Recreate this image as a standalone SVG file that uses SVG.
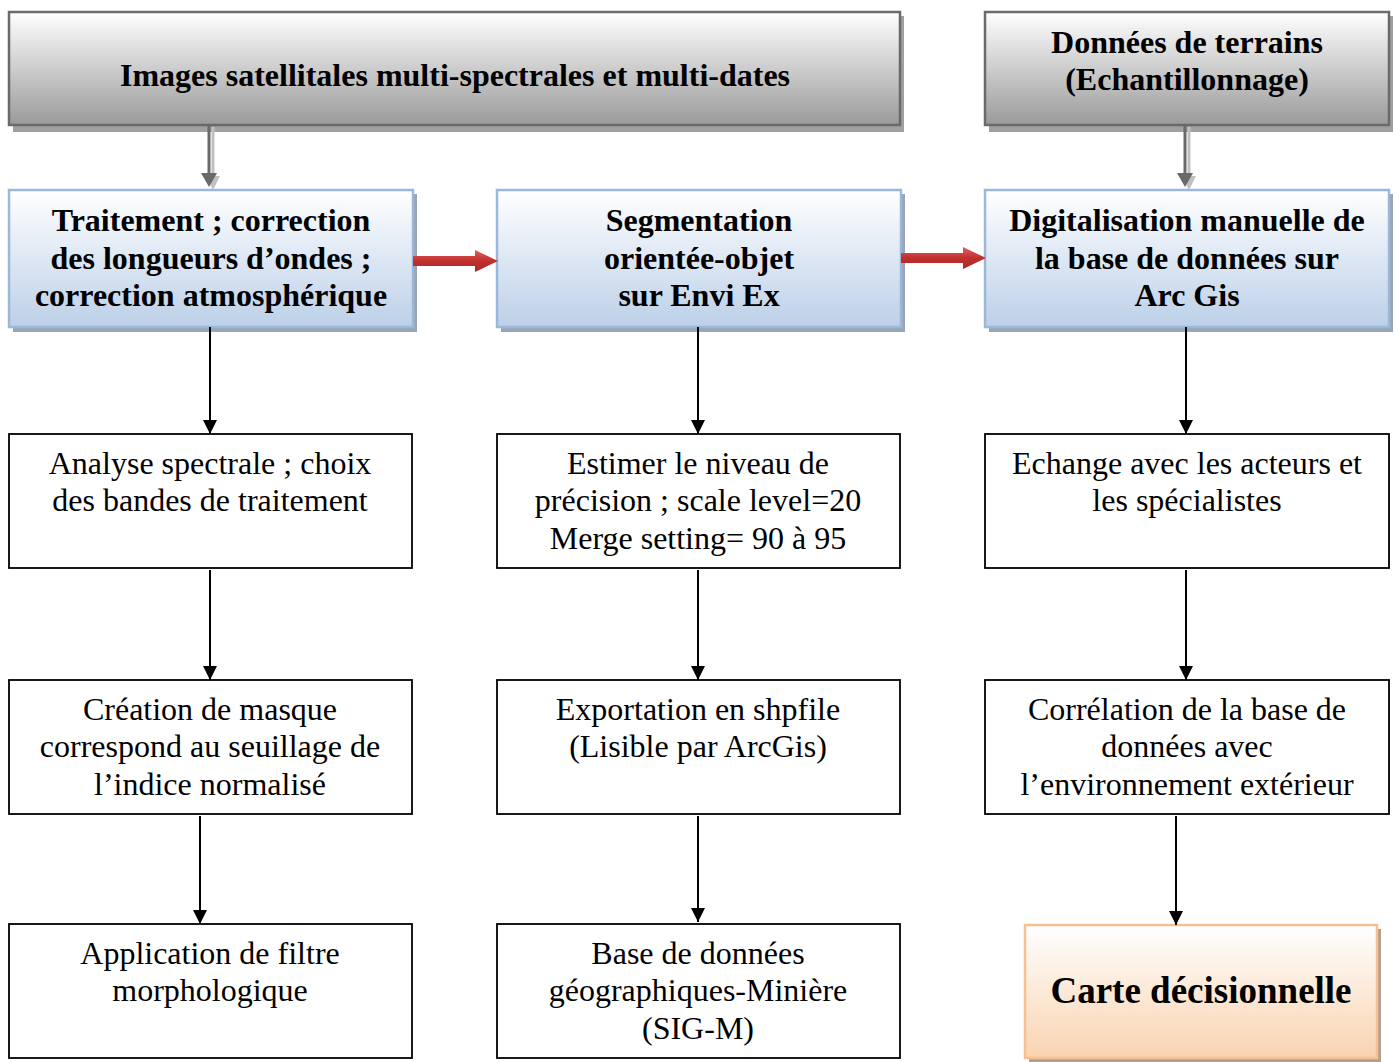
<svg xmlns="http://www.w3.org/2000/svg" width="1395" height="1062" viewBox="0 0 1395 1062">
<defs>
<linearGradient id="gGray" x1="0" y1="0" x2="0" y2="1">
<stop offset="0" stop-color="#ffffff"/><stop offset="1" stop-color="#9a9a9a"/>
</linearGradient>
<linearGradient id="gBlue" x1="0" y1="0" x2="0" y2="1">
<stop offset="0" stop-color="#ffffff"/><stop offset="1" stop-color="#bcd0e8"/>
</linearGradient>
<linearGradient id="gOrange" x1="0" y1="0" x2="0" y2="1">
<stop offset="0" stop-color="#ffffff"/><stop offset="1" stop-color="#f9d3b1"/>
</linearGradient>
<linearGradient id="gRed" x1="0" y1="0" x2="0" y2="1">
<stop offset="0" stop-color="#e06060"/><stop offset="0.5" stop-color="#c0302e"/><stop offset="1" stop-color="#a82a28"/>
</linearGradient>
<marker id="ah" viewBox="0 0 10 10" refX="10" refY="5" markerWidth="14" markerHeight="15" markerUnits="userSpaceOnUse" orient="auto">
<path d="M0,0 L10,5 L0,10 z" fill="#000"/>
</marker>
</defs>
<style>
text{font-family:"Liberation Serif","Times New Roman",serif;fill:#000;text-anchor:middle}
.b{font-weight:bold;font-size:32px}
.r{font-size:32px}
.hdr{fill:url(#gGray);stroke:#6a6a6a;stroke-width:2.5}
.blue{fill:url(#gBlue);stroke:#9ab8dc;stroke-width:2.5}
.wh{fill:#fff;stroke:#000;stroke-width:1.8}
.sh{fill:#a0a0a0}
.shb{fill:#9aa6b6}
.conn{stroke:#000;stroke-width:2;fill:none}
</style>
<rect width="1395" height="1062" fill="#fff"/>

<g id="n-images">
<rect class="sh" x="13" y="16" width="891" height="116"/>
<rect class="hdr" x="9" y="12" width="891" height="113"/>
<text class="b" x="455" y="86">Images satellitales multi-spectrales et multi-dates</text>
</g>
<g id="n-terrain">
<rect class="sh" x="989" y="16" width="404" height="116"/>
<rect class="hdr" x="985" y="12" width="404" height="113"/>
<text class="b" x="1187" y="53">Données de terrains</text>
<text class="b" x="1187" y="90">(Echantillonnage)</text>
</g>

<g id="n-traitement">
<rect class="shb" x="13" y="194" width="404" height="138"/>
<rect class="blue" x="9" y="190" width="404" height="137"/>
<text class="b" x="211" y="231">Traitement ; correction</text>
<text class="b" x="211" y="269">des longueurs d’ondes ;</text>
<text class="b" x="211" y="306">correction atmosphérique</text>
</g>
<g id="n-segmentation">
<rect class="shb" x="501" y="194" width="404" height="138"/>
<rect class="blue" x="497" y="190" width="404" height="137"/>
<text class="b" x="699" y="231">Segmentation</text>
<text class="b" x="699" y="269">orientée-objet</text>
<text class="b" x="699" y="306">sur Envi Ex</text>
</g>
<g id="n-digitalisation">
<rect class="shb" x="989" y="194" width="404" height="138"/>
<rect class="blue" x="985" y="190" width="404" height="137"/>
<text class="b" x="1187" y="231">Digitalisation manuelle de</text>
<text class="b" x="1187" y="269">la base de données sur</text>
<text class="b" x="1187" y="306">Arc Gis</text>
</g>

<g id="n-analyse">
<rect class="wh" x="9" y="434" width="403" height="134"/>
<text class="r" x="210" y="474">Analyse spectrale ; choix</text>
<text class="r" x="210" y="511">des bandes de traitement</text>
</g>
<g id="n-estimer">
<rect class="wh" x="497" y="434" width="403" height="134"/>
<text class="r" x="698" y="474">Estimer le niveau de</text>
<text class="r" x="698" y="511">précision ; scale level=20</text>
<text class="r" x="698" y="549">Merge setting= 90 à 95</text>
</g>
<g id="n-echange">
<rect class="wh" x="985" y="434" width="404" height="134"/>
<text class="r" x="1187" y="474">Echange avec les acteurs et</text>
<text class="r" x="1187" y="511">les spécialistes</text>
</g>

<g id="n-masque">
<rect class="wh" x="9" y="680" width="403" height="134"/>
<text class="r" x="210" y="720">Création de masque</text>
<text class="r" x="210" y="757">correspond au seuillage de</text>
<text class="r" x="210" y="795">l’indice normalisé</text>
</g>
<g id="n-export">
<rect class="wh" x="497" y="680" width="403" height="134"/>
<text class="r" x="698" y="720">Exportation en shpfile</text>
<text class="r" x="698" y="757">(Lisible par ArcGis)</text>
</g>
<g id="n-correlation">
<rect class="wh" x="985" y="680" width="404" height="134"/>
<text class="r" x="1187" y="720">Corrélation de la base de</text>
<text class="r" x="1187" y="757">données avec</text>
<text class="r" x="1187" y="795">l’environnement extérieur</text>
</g>

<g id="n-filtre">
<rect class="wh" x="9" y="924" width="403" height="134"/>
<text class="r" x="210" y="964">Application de filtre</text>
<text class="r" x="210" y="1001">morphologique</text>
</g>
<g id="n-sigm">
<rect class="wh" x="497" y="924" width="403" height="134"/>
<text class="r" x="698" y="964">Base de données</text>
<text class="r" x="698" y="1001">géographiques-Minière</text>
<text class="r" x="698" y="1039">(SIG-M)</text>
</g>
<g id="n-carte">
<rect x="1029" y="929" width="352" height="133" fill="#b0a090"/>
<rect x="1025" y="925" width="352" height="133" fill="url(#gOrange)" stroke="#f6c090" stroke-width="2.5"/>
<text x="1201" y="1003" style="font-weight:bold;font-size:37px">Carte décisionnelle</text>
</g>

<g id="connectors">
<g>
<line x1="213" y1="127" x2="213" y2="176" stroke="#c0c0c0" stroke-width="3"/>
<path d="M206,176 L220,176 L213,190 z" fill="#c0c0c0"/>
<line x1="209" y1="125" x2="209" y2="173" stroke="#6a6a6a" stroke-width="3"/>
<path d="M201,173 L217,173 L209,187 z" fill="#6a6a6a"/>
<line x1="1189" y1="127" x2="1189" y2="176" stroke="#c0c0c0" stroke-width="3"/>
<path d="M1182,176 L1196,176 L1189,190 z" fill="#c0c0c0"/>
<line x1="1185" y1="125" x2="1185" y2="173" stroke="#6a6a6a" stroke-width="3"/>
<path d="M1177,173 L1193,173 L1185,187 z" fill="#6a6a6a"/>
</g>
<path d="M413,256 L475,256 L475,250 L498,261 L475,272 L475,266 L413,266 z" fill="url(#gRed)"/>
<path d="M901,253 L963,253 L963,247 L986,258 L963,269 L963,263 L901,263 z" fill="url(#gRed)"/>
<line class="conn" x1="210" y1="327" x2="210" y2="434" marker-end="url(#ah)"/>
<line class="conn" x1="698" y1="327" x2="698" y2="434" marker-end="url(#ah)"/>
<line class="conn" x1="1186" y1="327" x2="1186" y2="434" marker-end="url(#ah)"/>
<line class="conn" x1="210" y1="570" x2="210" y2="680" marker-end="url(#ah)"/>
<line class="conn" x1="698" y1="570" x2="698" y2="680" marker-end="url(#ah)"/>
<line class="conn" x1="1186" y1="570" x2="1186" y2="680" marker-end="url(#ah)"/>
<line class="conn" x1="200" y1="816" x2="200" y2="924" marker-end="url(#ah)"/>
<line class="conn" x1="698" y1="816" x2="698" y2="922" marker-end="url(#ah)"/>
<line class="conn" x1="1176" y1="816" x2="1176" y2="925" marker-end="url(#ah)"/>
</g>
</svg>
